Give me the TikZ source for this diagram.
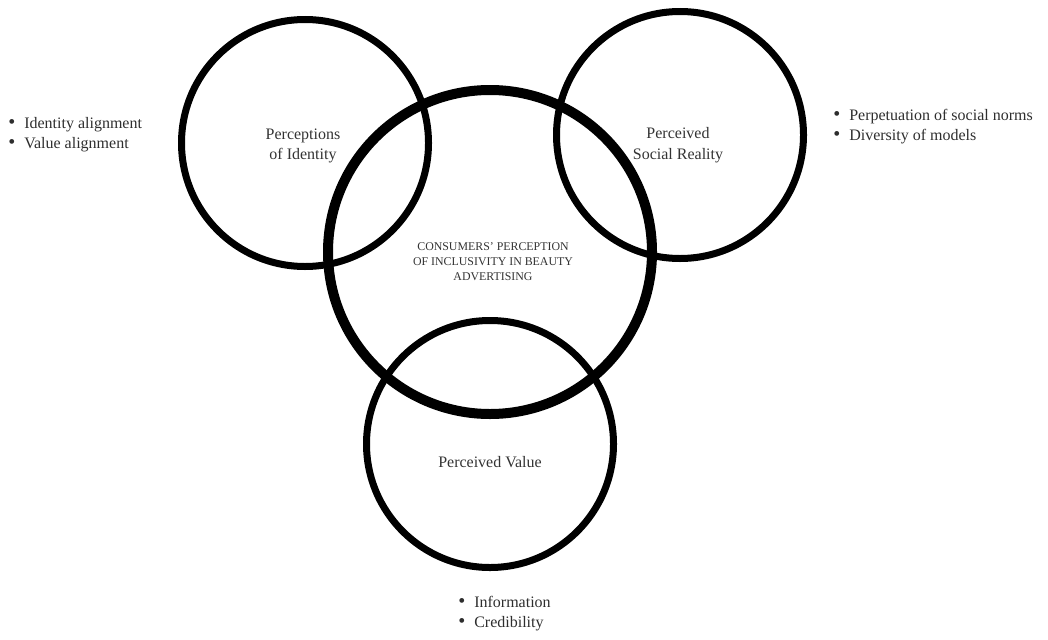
\documentclass[tikz,border=0pt]{standalone}
\usepackage{fontspec}
\setmainfont{Liberation Serif}
\usetikzlibrary{positioning}

\newcommand{\bul}[1]{\makebox[12pt][l]{\raisebox{0.3pt}{\fontsize{15}{15}\selectfont\textbullet}}#1}

\tikzset{
  ring/.style={draw=black, line width=5.25},
  hubring/.style={draw=black, line width=7.5},
  lbl/.style={inner sep=0.75pt, align=center, text=black!80, font=\fontsize{12}{15.5}\selectfont},
  hublbl/.style={inner sep=0.75pt, align=center, text=black!80, font=\fontsize{8.9}{11.25}\selectfont},
  blist/.style={inner sep=0pt, anchor=west, align=left, text=black!82, font=\fontsize{12}{15}\selectfont}
}

\begin{document}
\begin{tikzpicture}[x=0.75pt,y=0.75pt,yscale=-1,xscale=1]
	\useasboundingbox (0,0) rectangle (1048,639);
	
	%Shape: Circle [hub]
	\draw [hubring] (490,252) circle [radius=162];
	%Shape: Circle [identity]
	\draw [ring] (305,143) circle [radius=123.5];
	%Shape: Circle [social reality]
	\draw [ring] (680,135) circle [radius=123.5];
	%Shape: Circle [value]
	\draw [ring] (490,444) circle [radius=123.5];
	
	% Text Node
	\node (hub) [hublbl] at (493,262) {CONSUMERS' PERCEPTION\\OF INCLUSIVITY IN BEAUTY\\ADVERTISING};
	% Text Node
	\node (identity) [lbl] at (303,146) {Perceptions\\of Identity};
	% Text Node
	\node (social) [lbl] at (678,145) {Perceived\\Social Reality};
	% Text Node
	\node (value) [lbl] at (490,462) {Perceived Value};
	
	% Text Node
	\node (identitylist) [blist] at (8,135) {\bul{Identity alignment}\\\bul{Value alignment}};
	% Text Node
	\node (sociallist) [blist] at (833,127) {\bul{Perpetuation of social norms}\\\bul{Diversity of models}};
	% Text Node
	\node (valuelist) [blist] at (458,614) {\bul{Information}\\\bul{Credibility}};
	
\end{tikzpicture}
\end{document}
